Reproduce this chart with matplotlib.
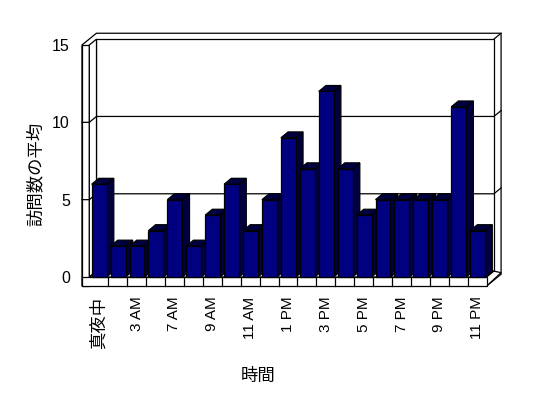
import matplotlib
matplotlib.use("Agg")
import matplotlib.pyplot as plt
from matplotlib.patches import Polygon, Rectangle

plt.rcParams['font.family'] = ['Liberation Sans', 'Noto Sans CJK JP', 'DejaVu Sans']

hours = ["真夜中", "1 AM", "3 AM", "5 AM", "7 AM", "8 AM", "9 AM", "10 AM",
         "11 AM", "正午", "1 PM", "2 PM", "3 PM", "4 PM", "5 PM", "6 PM",
         "7 PM", "8 PM", "9 PM", "10 PM", "11 PM"]
visits = [6, 2, 2, 3, 5, 2, 4, 6, 3, 5, 9, 7, 12, 7, 4, 5, 5, 5, 5, 11, 3]
y_ticks = [0, 5, 10, 15]

NAVY = '#000080'
SHADE = '#000040'
DX, DY = 0.38, 0.38      # depth offset of the 3d look (data units)
WALL = 0.386             # thickness of left wall
FLOOR = 0.58             # thickness of floor

W, H = 548, 398
fig = plt.figure(figsize=(W / 100, H / 100), dpi=100)
ax = fig.add_axes([89.3 / W, (H - 277) / H, (486.7 - 89.3) / W, (277 - 45) / H])
n = len(visits)
x0, x1 = -0.5, n - 0.5
ax.set_xlim(x0, x1)
ax.set_ylim(0, 15)
for s in ax.spines.values():
    s.set_visible(False)

lw = 0.9
k = dict(clip_on=False, lw=lw, edgecolor='black')

def poly(pts, fc='white', z=1):
    ax.add_patch(Polygon(pts, closed=True, facecolor=fc, zorder=z, **k))

def line(xs, ys, z=2):
    ax.plot(xs, ys, color='black', lw=lw, clip_on=False, zorder=z)

top = 15
# back wall (outer slab and inner face)
poly([(x0 - WALL, top), (x0 - WALL + 2 * DX, top + 2 * DY), (x1 + 2 * DX, top + 2 * DY),
      (x1 + 2 * DX, 2 * DY - FLOOR), (x1, -FLOOR), (x0 - WALL, -FLOOR)], z=0.5)
poly([(x0 + DX, DY), (x0 + DX, top + DY), (x1 + DX, top + DY), (x1 + DX, DY)], z=0.6)
line([x1 + DX, x1 + 2 * DX], [top + DY, top + 2 * DY], z=0.7)
# left wall
poly([(x0 - WALL, -FLOOR), (x0 - WALL, top), (x0, top), (x0, -FLOOR)], z=0.7)
poly([(x0, 0), (x0, top), (x0 + DX, top + DY), (x0 + DX, DY)], z=0.7)
# gridlines wrapping around the walls
for v in y_ticks[1:-1]:
    line([x0 - WALL, x0, x0 + DX, x1 + DX, x1 + 2 * DX], [v, v, v + DY, v + DY, v + 2 * DY], z=0.8)
# floor
poly([(x0, 0), (x1, 0), (x1 + DX, DY), (x0 + DX, DY)], z=0.8)
poly([(x1, 0), (x1 + DX, DY), (x1 + 2 * DX, 2 * DY - FLOOR + 0.1), (x1, -FLOOR)], z=0.8)
poly([(x0 - WALL, -FLOOR), (x0 - WALL, 0), (x1, 0), (x1, -FLOOR)], z=0.9)
for b in range(1, n):
    line([x0 + b, x0 + b], [-FLOOR, 0], z=0.95)

# bars
bw = 0.79
for i, v in enumerate(visits):
    l = i - 0.375
    r = l + bw
    z = 2 + i * 0.01
    poly([(r, 0), (r, v), (r + DX, v + DY), (r + DX, DY)], fc=SHADE, z=z)
    poly([(l, v), (r, v), (r + DX, v + DY), (l + DX, v + DY)], fc=SHADE, z=z)
    ax.add_patch(Rectangle((l, 0), bw, v, facecolor=NAVY, zorder=z + 0.005, **k))

ax.set_yticks(y_ticks)
ax.set_yticklabels([str(t) for t in y_ticks], fontsize=11.5)
ax.set_xticks(range(0, n, 2))
ax.set_xticklabels(hours[::2], rotation=90, fontsize=11, va='top', ha='center')
ax.tick_params(axis='y', length=0, pad=14)
ax.tick_params(axis='x', length=0, pad=14)
ax.get_xticklabels()[0].set_fontsize(12.5)

fig.text(258 / W, 1 - 376 / H, "時間", fontsize=12.5, ha='center', va='center')
fig.text(35 / W, 1 - 174 / H, "訪問数の平均", fontsize=12.5, rotation=90,
         ha='center', va='center')

fig.savefig("out.png", dpi=100, facecolor='white')
